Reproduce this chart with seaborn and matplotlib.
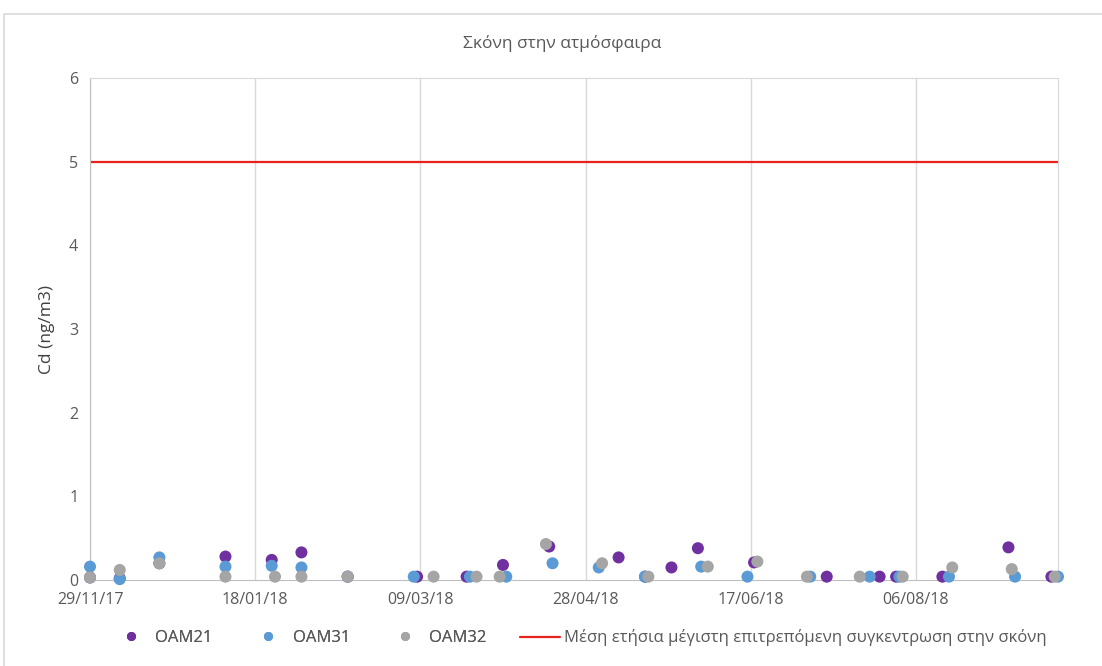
import pandas as pd
import matplotlib.pyplot as plt
import matplotlib.dates as mdates
from matplotlib.patches import Rectangle
from matplotlib.lines import Line2D
import seaborn as sns

# OAM21
d21 = ["2017-11-29", "2017-12-08", "2017-12-20", "2018-01-09", "2018-01-23", "2018-02-01",
       "2018-02-15", "2018-03-08", "2018-03-23", "2018-04-03", "2018-04-17", "2018-05-08",
       "2018-05-16", "2018-05-24", "2018-06-01", "2018-06-18", "2018-07-10", "2018-07-26",
       "2018-07-31", "2018-08-14", "2018-09-03", "2018-09-16"]
v21 = [0.03, 0.02, 0.20, 0.28, 0.24, 0.33,
       0.04, 0.04, 0.04, 0.18, 0.40, 0.27,
       0.04, 0.15, 0.38, 0.21, 0.04, 0.04,
       0.04, 0.04, 0.39, 0.04]
# OAM31
d31 = ["2017-11-29", "2017-12-08", "2017-12-20", "2018-01-09", "2018-01-23", "2018-02-01",
       "2018-02-15", "2018-03-07", "2018-03-24", "2018-04-04", "2018-04-18", "2018-05-02",
       "2018-05-16", "2018-06-02", "2018-06-16", "2018-07-05", "2018-07-23", "2018-08-01",
       "2018-08-16", "2018-09-05", "2018-09-18"]
v31 = [0.16, 0.01, 0.27, 0.16, 0.17, 0.15,
       0.04, 0.04, 0.04, 0.04, 0.20, 0.15,
       0.04, 0.16, 0.04, 0.04, 0.04, 0.04,
       0.04, 0.04, 0.04]
# OAM32
d32 = ["2017-11-29", "2017-12-08", "2017-12-20", "2018-01-09", "2018-01-24", "2018-02-01",
       "2018-02-15", "2018-03-13", "2018-03-26", "2018-04-02", "2018-04-16", "2018-05-03",
       "2018-05-17", "2018-06-04", "2018-06-19", "2018-07-04", "2018-07-20", "2018-08-02",
       "2018-08-17", "2018-09-04", "2018-09-17"]
v32 = [0.03, 0.12, 0.20, 0.04, 0.04, 0.04,
       0.04, 0.04, 0.04, 0.04, 0.43, 0.20,
       0.04, 0.16, 0.22, 0.04, 0.04, 0.04,
       0.15, 0.13, 0.04]

limit = 5
limit_label = "Μέση ετήσια μέγιστη επιτρεπόμενη συγκεντρωση στην σκόνη"
stations = ["OAM21", "OAM31", "OAM32"]
colors = ["#7030A0", "#5B9BD5", "#A5A5A5"]
red = "#E8211B"

df = pd.concat([
    pd.DataFrame({"date": pd.to_datetime(d), "value": v, "station": s})
    for d, v, s in zip([d21, d31, d32], [v21, v31, v32], stations)
])

sns.set_style("white")
plt.rcParams["font.family"] = ["Open Sans", "DejaVu Sans"]

W, H = 1102, 666
fig = plt.figure(figsize=(W / 100, H / 100), dpi=100)
ax = fig.add_axes([90 / W, 1 - 580 / H, (1058 - 90) / W, (580 - 78) / H])

# chart frame
fig.patches.append(Rectangle((4 / W, -0.1), 1.2, 1 - 14 / H + 0.1, transform=fig.transFigure,
                             fill=False, edgecolor="#D9D9D9", linewidth=1.2))

sns.scatterplot(data=df, x="date", y="value", hue="station", palette=colors,
                hue_order=stations, s=75, linewidth=0, ax=ax, legend=False,
                zorder=3, clip_on=False)
ax.axhline(limit, color=red, linewidth=1.6, zorder=2)

x0 = pd.Timestamp("2017-11-29")
ax.set_xlim(x0, pd.Timestamp("2018-09-18"))
ax.set_ylim(0, 6)
ax.set_xticks([x0 + pd.Timedelta(days=50 * i) for i in range(6)])
ax.xaxis.set_major_formatter(mdates.DateFormatter("%d/%m/%y"))
ax.set_yticks(range(7))
ax.grid(axis="x", color="#D9D9D9", linewidth=1)
for side in ["top", "right", "left", "bottom"]:
    ax.spines[side].set_color("#BFBFBF" if side in ("bottom", "left") else "#D9D9D9")
ax.tick_params(axis="both", colors="#595959", labelsize=11.5, length=5, width=1)
ax.tick_params(axis="x", color="#BFBFBF")
ax.tick_params(axis="y", color="#BFBFBF")
ax.set_xlabel("")
ax.set_ylabel("Cd (ng/m3)", fontsize=12.5, color="#404040", labelpad=10)
fig.text(562 / W, 1 - 43 / H, "Σκόνη στην ατμόσφαιρα", ha="center", va="center",
         fontsize=12.5, color="#595959")

# legend entries placed one by one, like the Excel layout
ly = 1 - 638 / H
for c, lab, x in zip(colors, stations, [118, 255, 392]):
    h = Line2D([], [], marker="o", linestyle="", color=c, markersize=5.5)
    fig.add_artist(fig.legend([h], [lab], loc="center left", bbox_to_anchor=(x / W, ly),
                              frameon=False, fontsize=12, labelcolor="#595959",
                              borderpad=0, borderaxespad=0, handlelength=1.5,
                              handletextpad=0.75))
h = Line2D([], [], color=red, linewidth=1.6)
fig.legend([h], [limit_label], loc="center left", bbox_to_anchor=(520 / W, ly),
           frameon=False, fontsize=12, labelcolor="#595959", borderpad=0,
           borderaxespad=0, handlelength=2.4, handletextpad=0.25)

fig.savefig("out.png", dpi=100)
